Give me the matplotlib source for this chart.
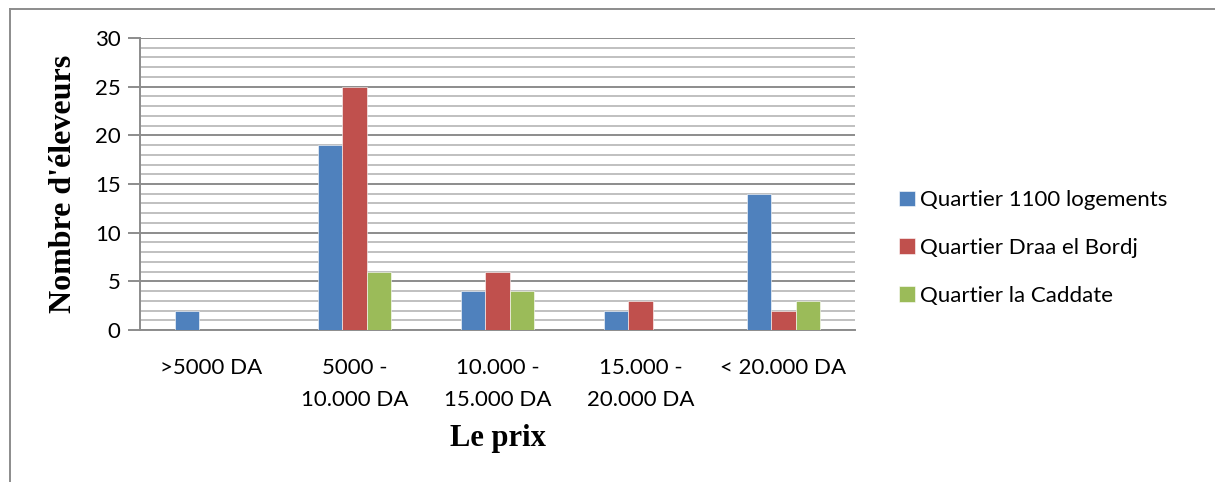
import numpy as np
import matplotlib
matplotlib.use("Agg")
import matplotlib.pyplot as plt
from matplotlib.ticker import MultipleLocator

categories = [">5000 DA", "5000 -\n10.000 DA", "10.000 -\n15.000 DA",
              "15.000 -\n20.000 DA", "< 20.000 DA"]
series = ["Quartier 1100 logements", "Quartier Draa el Bordj", "Quartier la Caddate"]
q1100 = [2, 19, 4, 2, 14]
draa = [0, 25, 6, 3, 2]
caddate = [0, 6, 4, 0, 3]
colors = ["#4F81BD", "#C0504D", "#9BBB59"]

sansFont = ["Lato", "DejaVu Sans"]
serifFont = ["Liberation Serif", "DejaVu Serif"]

fig = plt.figure(figsize=(12.15, 4.82), dpi=100)
ax = fig.add_axes([140/1215, 1 - 330/482, 715/1215, 292/482])

x = np.arange(len(categories))
w = 0.168
for i, (vals, name) in enumerate(zip([q1100, draa, caddate], series)):
    ax.bar(x + (i - 1) * w, vals, width=w, color=colors[i], label=name,
           edgecolor="white", linewidth=0.4, zorder=3)

ax.set_xlim(-0.5, len(categories) - 0.5)
ax.set_ylim(0, 30)
ax.yaxis.set_major_locator(MultipleLocator(5))
ax.yaxis.set_minor_locator(MultipleLocator(1))
ax.grid(which="major", axis="y", color="#8c8c8c", linewidth=1.4, zorder=0)
ax.grid(which="minor", axis="y", color="#c0c0c0", linewidth=1.4, zorder=0)

for s in ["top", "right"]:
    ax.spines[s].set_visible(False)
ax.spines["left"].set_color("#8c8c8c")
ax.spines["bottom"].set_color("#8c8c8c")
ax.spines["left"].set_linewidth(1.4)
ax.spines["bottom"].set_linewidth(1.4)

ax.set_xticks(x)
ax.set_xticklabels(categories, fontfamily=sansFont, fontsize=16, linespacing=1.75)
ax.tick_params(axis="x", length=0, pad=20)
ax.tick_params(axis="y", which="major", length=9, width=1.4, color="#8c8c8c",
               labelsize=16, pad=5)
ax.tick_params(axis="y", which="minor", length=0)
for lab in ax.get_yticklabels():
    lab.set_fontfamily(sansFont)

ax.set_ylabel("Nombre d'éleveurs", fontfamily=serifFont, fontweight="bold",
              fontsize=23, labelpad=12)
ax.set_xlabel("Le prix", fontfamily=serifFont, fontweight="bold",
              fontsize=22, labelpad=10)

leg = fig.legend(loc="center left", bbox_to_anchor=(879/1215, 1 - 248/482),
                 frameon=False, prop={"family": sansFont, "size": 16},
                 handlelength=0.7, handleheight=0.7, handletextpad=0.25,
                 labelspacing=1.25)

# outer chart frame (top and left)
fig.add_artist(plt.Line2D([10/1215, 10/1215], [0, 1 - 9/482], color="#8c8c8c", lw=1.4))
fig.add_artist(plt.Line2D([10/1215, 1], [1 - 9/482, 1 - 9/482], color="#8c8c8c", lw=1.4))

plt.savefig("out.png", dpi=100)
plt.close()
